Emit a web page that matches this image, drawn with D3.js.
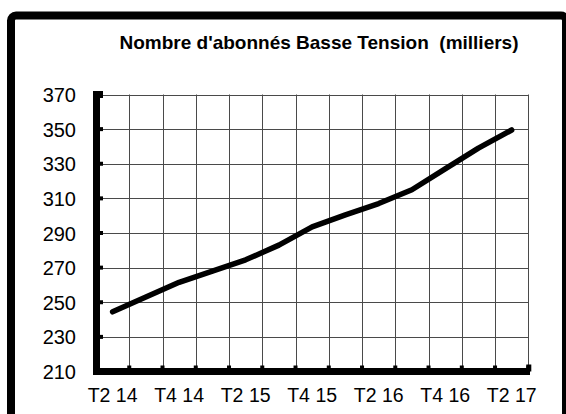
<!DOCTYPE html>
<html>
<head>
<meta charset="utf-8">
<script src="https://cdn.jsdelivr.net/npm/d3@7"></script>
<style>
  html, body { margin: 0; padding: 0; background: #fff; }
  svg { display: block; }
  text { font-family: "Liberation Sans", Arial, sans-serif; fill: #000; }
</style>
</head>
<body>
<svg id="chart" width="566" height="414"></svg>
<script>
// Quarterly subscriber counts (thousands), Q2 2014 through Q2 2017
const quarters = ["T2 14","T3 14","T4 14","T1 15","T2 15","T3 15","T4 15","T1 16","T2 16","T3 16","T4 16","T1 17","T2 17"];
const subscribers = [244.5, 253, 261.5, 268, 274.5, 283, 293.5, 300.5, 307, 315, 327, 339, 349.5];
const shownLabels = ["T2 14","T4 14","T2 15","T4 15","T2 16","T4 16","T2 17"];
const yTicks = [210, 230, 250, 270, 290, 310, 330, 350, 370];
const titleText = "Nombre d'abonnés Basse Tension  (milliers)";

const svg = d3.select("#chart");

// outer frame with rounded corner, partly running off the canvas
svg.append("rect")
  .attr("x", 11).attr("y", 15.5)
  .attr("width", 555).attr("height", 420)
  .attr("rx", 5)
  .attr("fill", "none").attr("stroke", "#000").attr("stroke-width", 8);

svg.append("text")
  .attr("x", 319).attr("y", 48.5)
  .attr("text-anchor", "middle")
  .style("font-size", "19px").style("font-weight", "bold")
  .style("white-space", "pre")
  .text(titleText);

const x = d3.scaleBand().domain(quarters).range([96, 528.3]).paddingInner(0).paddingOuter(0);
const y = d3.scaleLinear().domain([210, 370]).range([371.5, 94.5]);

// horizontal gridlines
svg.append("g").selectAll("line").data(yTicks.slice(1)).join("line")
  .attr("x1", 96).attr("x2", 528.3)
  .attr("y1", d => Math.round(y(d)) + 0.5).attr("y2", d => Math.round(y(d)) + 0.5)
  .attr("stroke", "#4a4a4a").attr("stroke-width", 1);

// vertical gridlines at category boundaries
const bounds = quarters.map(q => x(q) + x.bandwidth());
svg.append("g").selectAll("line").data(bounds).join("line")
  .attr("x1", d => Math.round(d) + 0.5).attr("x2", d => Math.round(d) + 0.5)
  .attr("y1", y(370)).attr("y2", y(210))
  .attr("stroke", "#4a4a4a").attr("stroke-width", 1);

// y axis labels
const yAxis = d3.axisLeft(y).tickValues(yTicks).tickSize(0).tickPadding(0);
const gy = svg.append("g").attr("transform", "translate(76,0)").call(yAxis);
gy.select(".domain").remove();
gy.selectAll("text").style("font-size", "20px").style("font-family", "Liberation Sans, Arial, sans-serif").attr("fill", "#000").attr("dy", "0.35em");

// x axis labels (every second quarter)
const xAxis = d3.axisBottom(x).tickValues(shownLabels).tickSize(0).tickPadding(0);
const gx = svg.append("g").attr("transform", "translate(0,388)").call(xAxis);
gx.select(".domain").remove();
gx.selectAll("text").style("font-size", "19.5px").style("font-family", "Liberation Sans, Arial, sans-serif").attr("fill", "#000").attr("dy", "0.72em");

// thick axis lines
svg.append("line").attr("x1", 96.5).attr("x2", 96.5).attr("y1", y(370) - 3.5).attr("y2", y(210) + 3.5)
  .attr("stroke", "#000").attr("stroke-width", 7);
svg.append("line").attr("x1", 93).attr("x2", 530).attr("y1", y(210)).attr("y2", y(210))
  .attr("stroke", "#000").attr("stroke-width", 7);

// tick squares on the axes
svg.append("g").selectAll("rect").data(yTicks.slice(1)).join("rect")
  .attr("x", 99).attr("y", d => y(d) - 2).attr("width", 4).attr("height", 4).attr("fill", "#000");
svg.append("rect").attr("x", 96).attr("y", y(370) - 3.5).attr("width", 7).attr("height", 7).attr("fill", "#000");
svg.append("g").selectAll("rect").data(bounds).join("rect")
  .attr("x", d => d - 2).attr("y", y(210) - 6).attr("width", 4).attr("height", 4).attr("fill", "#000");
svg.append("rect").attr("x", bounds[bounds.length - 1] - 2).attr("y", y(210) - 7).attr("width", 5).attr("height", 7).attr("fill", "#000");

// subscriber line
const line = d3.line()
  .x((d, i) => x(quarters[i]) + x.bandwidth() / 2)
  .y(d => y(d));
svg.append("path").datum(subscribers)
  .attr("d", line)
  .attr("fill", "none").attr("stroke", "#000").attr("stroke-width", 5.5)
  .attr("stroke-linejoin", "round").attr("stroke-linecap", "round");
</script>
</body>
</html>
